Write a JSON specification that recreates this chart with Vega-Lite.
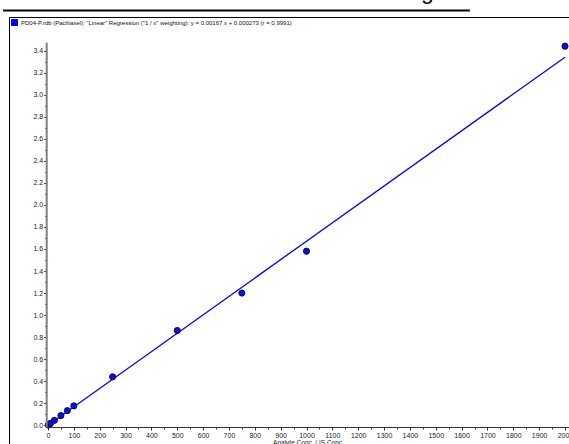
{
  "$schema": "https://vega.github.io/schema/vega-lite/v6.json",
  "width": 575,
  "height": 429,
  "autosize": {"type": "none"},
  "padding": {"left": 9, "top": 17, "right": -15, "bottom": -2},
  "background": "white",
  "title": {
    "text": "Paclitaxel Calibration Curve - 0 to 2000 ng/mL",
    "anchor": "start",
    "frame": "group",
    "fontSize": 23,
    "font": "Liberation Sans",
    "fontWeight": "normal",
    "color": "black",
    "offset": 0,
    "dx": -6,
    "dy": 12.5,
    "baseline": "alphabetic"
  },
  "datasets": {
    "points": [
      {"conc": 1, "ratio": 0.002},
      {"conc": 2.5, "ratio": 0.004},
      {"conc": 5, "ratio": 0.009},
      {"conc": 10, "ratio": 0.018},
      {"conc": 25, "ratio": 0.045},
      {"conc": 50, "ratio": 0.088},
      {"conc": 75, "ratio": 0.133},
      {"conc": 100, "ratio": 0.176},
      {"conc": 250, "ratio": 0.44},
      {"conc": 500, "ratio": 0.86},
      {"conc": 750, "ratio": 1.2},
      {"conc": 1000, "ratio": 1.58},
      {"conc": 2000, "ratio": 3.44}
    ],
    "fit": [
      {"conc": 0, "ratio": 0.000273, "series": "PD04-P.rdb (Paclitaxel): \"Linear\" Regression (\"1 / x\" weighting): y = 0.00167 x + 0.000273 (r = 0.9991)"},
      {"conc": 2000, "ratio": 3.340273, "series": "PD04-P.rdb (Paclitaxel): \"Linear\" Regression (\"1 / x\" weighting): y = 0.00167 x + 0.000273 (r = 0.9991)"}
    ]
  },
  "resolve": {"axis": {"x": "independent", "y": "independent"}},
  "layer": [
    {
      "data": {"name": "fit"},
      "mark": {"type": "line", "strokeWidth": 1.3},
      "encoding": {
        "x": {
          "field": "conc",
          "type": "quantitative",
          "scale": {"domain": [-150.9, 2073.5], "nice": false, "zero": false},
          "axis": {
            "orient": "bottom",
            "offset": -19,
            "domain": false,
            "values": [0,100,200,300,400,500,600,700,800,900,1000,1100,1200,1300,1400,1500,1600,1700,1800,1900,2000],
            "labelOverlap": false,
            "labelFlush": false,
            "format": "d",
            "tickSize": 3,
            "tickColor": "#333333",
            "labelFontSize": 7,
            "labelFont": "Liberation Sans",
            "labelColor": "#222222",
            "labelPadding": 1,
            "grid": false,
            "title": "Analyte Conc. / IS Conc.",
            "titleFontSize": 6.5,
            "titleFont": "Liberation Sans",
            "titleFontWeight": "normal",
            "titleColor": "#222222",
            "titlePadding": 1,
            "titleX": 299
          }
        },
        "y": {
          "field": "ratio",
          "type": "quantitative",
          "scale": {"domain": [-0.188, 3.705], "nice": false, "zero": false},
          "axis": {
            "orient": "left",
            "offset": -37.7,
            "domain": false,
            "values": [0,0.2,0.4,0.6,0.8,1.0,1.2,1.4,1.6,1.8,2.0,2.2,2.4,2.6,2.8,3.0,3.2,3.4],
            "format": ".1f",
            "labelOverlap": false,
            "labelFlush": false,
            "tickSize": 3,
            "tickColor": "#333333",
            "labelFontSize": 7,
            "labelFont": "Liberation Sans",
            "labelColor": "#222222",
            "labelPadding": 1,
            "grid": false,
            "title": null
          }
        },
        "color": {
          "field": "series",
          "type": "nominal",
          "scale": {"range": ["#0000ff"]},
          "legend": {
            "orient": "top-left",
            "title": null,
            "offset": 2,
            "padding": 0,
            "symbolType": "square",
            "symbolSize": 36,
            "symbolFillColor": "#0000ff",
            "symbolStrokeColor": "#000080",
            "symbolStrokeWidth": 1,
            "labelFontSize": 6,
            "labelFont": "Liberation Sans",
            "labelColor": "#111111",
            "labelLimit": 0,
            "labelOffset": 3
          }
        }
      }
    },
    {
      "data": {"name": "points"},
      "mark": {"type": "point", "shape": "circle", "filled": true, "size": 38, "color": "#1010c8", "stroke": "#000060", "strokeWidth": 0.9, "opacity": 1},
      "encoding": {
        "x": {
          "field": "conc",
          "type": "quantitative",
          "axis": {
            "orient": "bottom",
            "offset": -19,
            "domain": false,
            "values": [50,150,250,350,450,550,650,750,850,950,1050,1150,1250,1350,1450,1550,1650,1750,1850,1950],
            "labels": false,
            "tickSize": 2,
            "tickColor": "#333333",
            "grid": false,
            "title": null
          }
        },
        "y": {
          "field": "ratio",
          "type": "quantitative",
          "axis": {
            "orient": "left",
            "offset": -37.7,
            "domain": false,
            "values": [0.1,0.3,0.5,0.7,0.9,1.1,1.3,1.5,1.7,1.9,2.1,2.3,2.5,2.7,2.9,3.1,3.3],
            "labels": false,
            "tickSize": 2,
            "tickColor": "#333333",
            "grid": false,
            "title": null
          }
        }
      }
    },
    {
      "data": {"values": [{}]},
      "mark": {"type": "rule", "color": "black", "strokeWidth": 2, "clip": false},
      "encoding": {
        "x": {"datum": -174, "type": "quantitative", "axis": null},
        "x2": {"datum": 1632},
        "y": {"datum": 3.764, "type": "quantitative", "axis": null}
      }
    },
    {
      "data": {"values": [{}]},
      "mark": {"type": "rule", "color": "#808080", "strokeWidth": 2},
      "encoding": {
        "x": {"datum": -5, "type": "quantitative", "axis": null},
        "y": {"datum": -0.02, "type": "quantitative", "axis": null},
        "y2": {"datum": 3.472}
      }
    },
    {
      "data": {"values": [{}]},
      "mark": {"type": "rule", "color": "#333333", "strokeWidth": 1},
      "encoding": {
        "x": {"datum": -5, "type": "quantitative", "axis": null},
        "x2": {"datum": 2073.5},
        "y": {"datum": -0.02, "type": "quantitative", "axis": null}
      }
    }
  ],
  "config": {
    "view": {"stroke": "black", "strokeWidth": 1},
    "axis": {"labelOverlap": false, "labelSeparation": 0}
  }
}
